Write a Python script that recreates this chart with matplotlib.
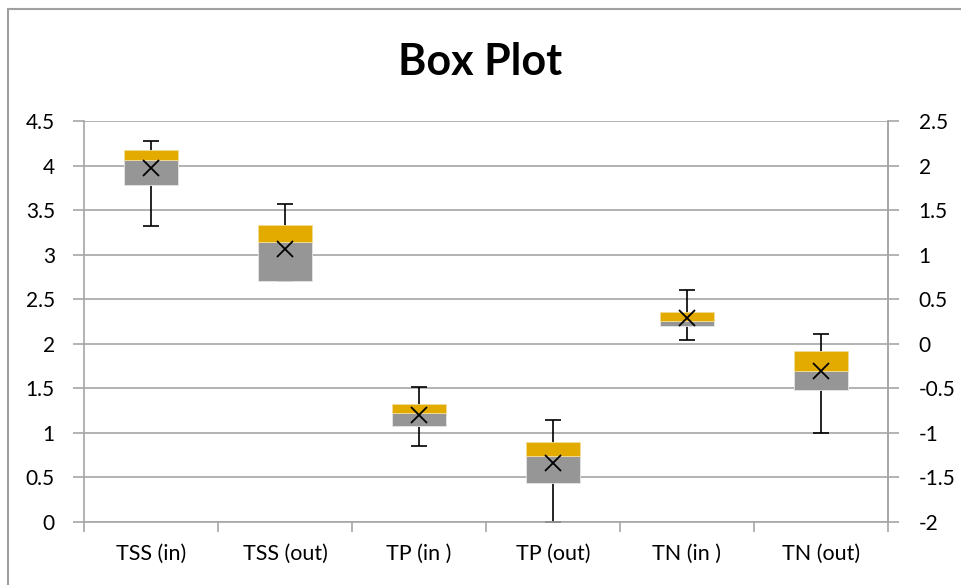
import numpy as np
import matplotlib

matplotlib.use("Agg")
import matplotlib.pyplot as plt
from matplotlib.patches import Rectangle

plt.rcParams["font.family"] = ["Lato", "DejaVu Sans"]

# --- dados ---
categorias = ["TSS (in)", "TSS (out)", "TP (in )", "TP (out)", "TN (in )", "TN (out)"]
minimo = [3.32, 2.70, 0.85, 0.00, 2.04, 1.00]
q1 = [3.78, 2.70, 1.08, 0.44, 2.20, 1.48]
mediana = [4.06, 3.14, 1.22, 0.74, 2.26, 1.69]
q3 = [4.18, 3.33, 1.32, 0.90, 2.36, 1.92]
maximo = [4.27, 3.57, 1.52, 1.15, 2.60, 2.11]
media = [3.97, 3.06, 1.20, 0.66, 2.29, 1.70]

cinza = "#969696"
laranja = "#E3AA00"
grade = "#A6A6A6"

x = np.arange(len(categorias))
q1 = np.array(q1)
mediana = np.array(mediana)
q3 = np.array(q3)

fig = plt.figure(figsize=(9.61, 5.85), dpi=100)
ax = fig.add_axes([84 / 961, 1 - 522 / 585, (888 - 84) / 961, (522 - 121) / 585])

# bigodes (atras das caixas)
ax.errorbar(x, mediana, yerr=[mediana - np.array(minimo), np.array(maximo) - mediana],
            fmt="none", ecolor="black", elinewidth=1.2, capsize=6, capthick=1.2, zorder=2)

# caixas empilhadas: Q1 -> mediana (cinza), mediana -> Q3 (laranja)
ax.bar(x, mediana - q1, bottom=q1, width=0.4, color=cinza, edgecolor="#E6E6E6",
       linewidth=0.6, zorder=3)
ax.bar(x, q3 - mediana, bottom=mediana, width=0.4, color=laranja, edgecolor="#F2DC99",
       linewidth=0.6, zorder=3)

# media
ax.plot(x, media, linestyle="none", marker="x", markersize=11, markeredgewidth=1.3,
        color="black", zorder=4)

ax.set_xlim(-0.5, len(categorias) - 0.5)
ax.set_ylim(0, 4.5)
ax.set_yticks(np.arange(0, 4.51, 0.5))
ax.set_yticklabels(["0", "0.5", "1", "1.5", "2", "2.5", "3", "3.5", "4", "4.5"])
ax.yaxis.grid(True, color=grade, linewidth=1.2, zorder=0)
ax.set_axisbelow(True)

ax.set_xticks(x)
ax.set_xticklabels(categorias)
ax.set_xticks(np.arange(-0.5, len(categorias), 1), minor=True)
ax.tick_params(axis="x", which="major", length=0, pad=16, labelsize=15.5)
ax.tick_params(axis="x", which="minor", length=7, color=grade, width=1.2)
ax.tick_params(axis="y", length=8, color=grade, width=1.2, labelsize=15, pad=13)

for lado in ["left", "bottom", "right"]:
    ax.spines[lado].set_color(grade)
    ax.spines[lado].set_linewidth(1.2)
ax.spines["top"].set_visible(False)

# eixo secundario
ax2 = ax.twinx()
ax2.set_ylim(-2, 2.5)
ax2.set_yticks(np.arange(-2, 2.51, 0.5))
ax2.set_yticklabels(["-2", "-1.5", "-1", "-0.5", "0", "0.5", "1", "1.5", "2", "2.5"])
ax2.tick_params(axis="y", length=8, color=grade, width=1.2, labelsize=15, pad=14)
for lado in ["left", "bottom", "right", "top"]:
    ax2.spines[lado].set_visible(False)
ax2.spines["right"].set_visible(True)
ax2.spines["right"].set_color(grade)
ax2.spines["right"].set_linewidth(1.2)

fig.text(0.5, 1 - 62 / 585, "Box Plot", ha="center", va="center", fontsize=31,
         fontweight="bold")

# moldura do grafico (abre para a direita e para baixo)
fig.add_artist(Rectangle((7.5 / 961, -0.05), 1.05, 1.05 - 9 / 585,
                         transform=fig.transFigure, fill=False, edgecolor="#A0A0A0",
                         linewidth=1.5))

plt.savefig("out.png", dpi=100)
plt.close()
